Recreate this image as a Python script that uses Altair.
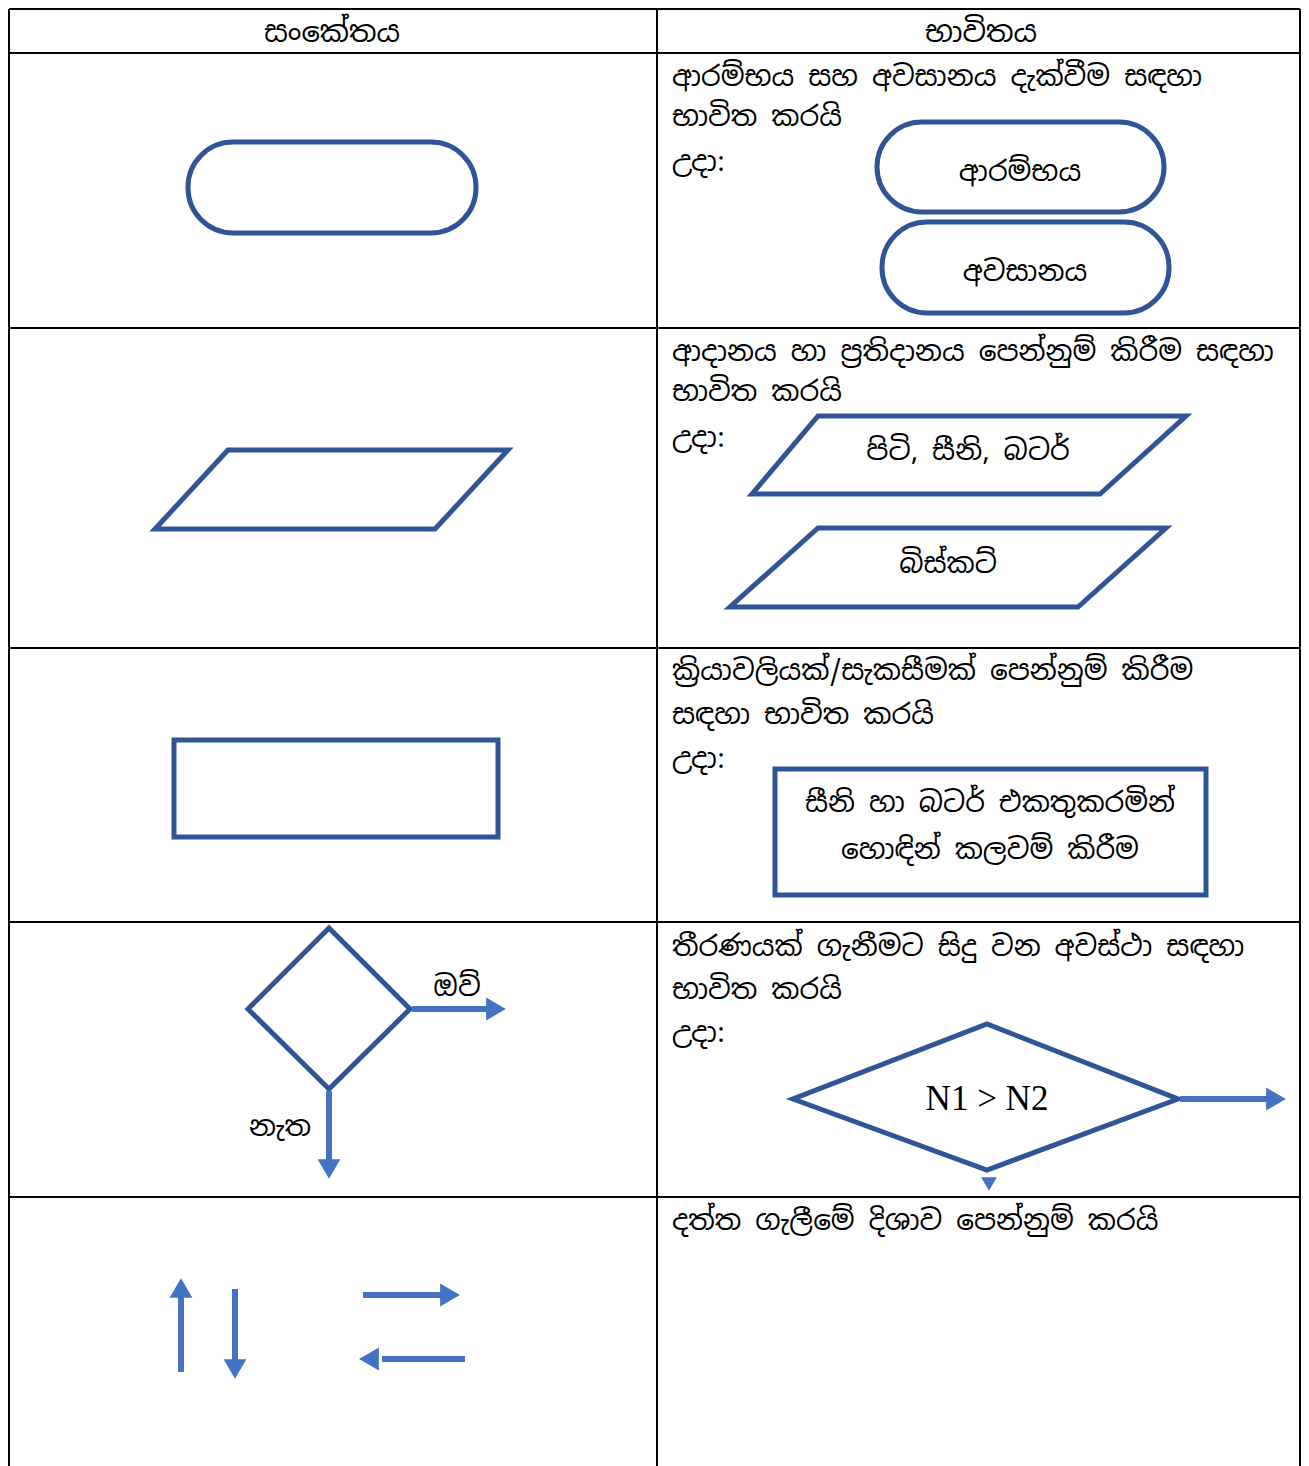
import altair as alt
import pandas as pd

DARK = "#2F5597"
LIGHT = "#4472C4"
SIN_FONT = "Noto Sans Sinhala, Iskoola Pota, Noto Sans, sans-serif"

# ---- table grid ----
h_line_y = [6, 50, 325, 645, 919, 1194]
table_left, table_mid, table_right = 9, 657, 1300
table_top, table_bottom = 6, 1470

# ---- header ----
header_text = ["සංකේතය", "භාවිතය"]
header_x = [332, 981]
header_y = [30, 30]

# ---- description lines (right column) ----
desc_text = [
    "ආරම්භය සහ අවසානය දැක්වීම සඳහා", "භාවිත කරයි", "උදා:",
    "ආදානය හා ප්‍රතිදානය පෙන්නුම් කිරීම සඳහා", "භාවිත කරයි", "උදා:",
    "ක්‍රියාවලියක්/සැකසීමක් පෙන්නුම් කිරීම", "සඳහා භාවිත කරයි", "උදා:",
    "තීරණයක් ගැනීමට සිදු වන අවස්ථා සඳහා", "භාවිත කරයි", "උදා:",
    "දත්ත ගැලීමේ දිශාව පෙන්නුම් කරයි",
]
desc_y = [75, 115, 160, 350, 390, 436, 669, 713, 757, 945, 988, 1031, 1219]
desc_x = 672

# ---- labels inside shapes ----
label_text = ["ආරම්භය", "අවසානය", "පිටි, සීනි, බටර්", "බිස්කට්",
              "සීනි හා බටර් එකතුකරමින්", "හොඳින් කලවම් කිරීම", "ඔව්", "නැත"]
label_x = [1020, 1025, 968, 948, 990, 990, 457, 280]
label_y = [170, 270, 449, 562, 801, 848, 985, 1125]

cond_text = ["N1 > N2"]
cond_x = [987]
cond_y = [1096]

# ---- stadium (terminator) shapes ----
stad_x1 = [188, 877, 882]
stad_x2 = [476, 1164, 1169]
stad_y1 = [139, 119, 219]
stad_y2 = [230, 209, 310]

# ---- process rectangles ----
rect_x1 = [174, 775]
rect_x2 = [498, 1206]
rect_y1 = [737, 766]
rect_y2 = [834, 892]

# ---- polygons (parallelograms, diamonds) ----
poly_name = ["para_left", "para_r1", "para_r2", "dia_left", "dia_right"]
poly_xs = [
    [155, 228, 508, 435],
    [752, 818, 1186, 1100],
    [730, 818, 1166, 1078],
    [329, 410, 329, 248],
    [987, 1178, 987, 793],
]
poly_ys = [
    [526, 447, 447, 526],
    [491, 413, 413, 491],
    [604, 525, 525, 604],
    [925, 1006, 1086, 1006],
    [1021, 1096, 1167, 1096],
]

# ---- arrow shafts ----
shaft_x1 = [412, 329, 1180, 181, 235, 363, 465]
shaft_y1 = [1006, 1088, 1096, 1369, 1286, 1292, 1356]
shaft_x2 = [488, 329, 1268, 181, 235, 441, 382]
shaft_y2 = [1006, 1158, 1096, 1294, 1358, 1292, 1356]

# ---- arrow heads ----
head_x = [496, 329, 1276, 181, 235, 450, 369, 989]
head_y = [1006, 1166, 1096, 1285, 1366, 1292, 1356, 1181]
head_shape = ["triangle-right", "triangle-down", "triangle-right", "triangle-up",
              "triangle-down", "triangle-right", "triangle-left", "triangle-down"]
head_size = [520, 520, 520, 520, 520, 520, 520, 250]

# ================= build tables =================
xs = alt.Scale(domain=[8, 1301], range=[0, 1293], nice=False, zero=False)
ys = alt.Scale(domain=[13, 1463], range=[0, 1450], nice=False, zero=False)

def X(f):
    return alt.X(f, type="quantitative", scale=xs, axis=None)

def Y(f):
    return alt.Y(f, type="quantitative", scale=ys, axis=None)

grid_rows = []
for yv in h_line_y:
    grid_rows.append(dict(x1=table_left, x2=table_right, y1=yv, y2=yv))
for xv in [table_left, table_mid, table_right]:
    grid_rows.append(dict(x1=xv, x2=xv, y1=table_top, y2=table_bottom))
grid_df = pd.DataFrame(grid_rows)

grid = alt.Chart(grid_df).mark_rule(color="black", strokeWidth=2).encode(
    x=X("x1"), x2="x2", y=Y("y1"), y2="y2")

stad_df = pd.DataFrame(dict(x1=stad_x1, x2=stad_x2, y1=stad_y1, y2=stad_y2))
stad = alt.Chart(stad_df).mark_rect(
    fill="white", stroke=DARK, strokeWidth=5, cornerRadius=45).encode(
    x=X("x1"), x2="x2", y=Y("y1"), y2="y2")

rect_df = pd.DataFrame(dict(x1=rect_x1, x2=rect_x2, y1=rect_y1, y2=rect_y2))
rects = alt.Chart(rect_df).mark_rect(
    fill="white", stroke=DARK, strokeWidth=5).encode(
    x=X("x1"), x2="x2", y=Y("y1"), y2="y2")

poly_rows = []
for name, pxs, pys in zip(poly_name, poly_xs, poly_ys):
    seq = list(range(len(pxs))) + [0, 1]
    for k, i in enumerate(seq):
        poly_rows.append(dict(shape=name, order=k, x=pxs[i], y=pys[i]))
poly_df = pd.DataFrame(poly_rows)
polys = alt.Chart(poly_df).mark_line(
    color=DARK, strokeWidth=5, strokeJoin="miter").encode(
    x=X("x"), y=Y("y"), detail="shape:N", order="order:Q")

shaft_df = pd.DataFrame(dict(x1=shaft_x1, x2=shaft_x2, y1=shaft_y1, y2=shaft_y2))
shafts = alt.Chart(shaft_df).mark_rule(color=LIGHT, strokeWidth=6).encode(
    x=X("x1"), x2="x2", y=Y("y1"), y2="y2")

head_df = pd.DataFrame(dict(x=head_x, y=head_y, shape=head_shape, size=head_size))
heads = alt.Chart(head_df).mark_point(
    filled=True, color=LIGHT, opacity=1, strokeWidth=0).encode(
    x=X("x"), y=Y("y"),
    shape=alt.Shape("shape:N", scale=None, legend=None),
    size=alt.Size("size:Q", scale=None, legend=None))

hdr_df = pd.DataFrame(dict(t=header_text, x=header_x, y=header_y))
hdr = alt.Chart(hdr_df).mark_text(
    font=SIN_FONT, fontSize=29, color="black", align="center", baseline="middle").encode(
    x=X("x"), y=Y("y"), text="t:N")

desc_df = pd.DataFrame(dict(t=desc_text, y=desc_y, x=[desc_x] * len(desc_text)))
desc = alt.Chart(desc_df).mark_text(
    font=SIN_FONT, fontSize=28, color="black", align="left", baseline="middle").encode(
    x=X("x"), y=Y("y"), text="t:N")

lab_df = pd.DataFrame(dict(t=label_text, x=label_x, y=label_y))
labs = alt.Chart(lab_df).mark_text(
    font=SIN_FONT, fontSize=28, color="black", align="center", baseline="middle").encode(
    x=X("x"), y=Y("y"), text="t:N")

cond_df = pd.DataFrame(dict(t=cond_text, x=cond_x, y=cond_y))
cond = alt.Chart(cond_df).mark_text(
    font="Liberation Serif", fontSize=35, color="black", align="center", baseline="middle").encode(
    x=X("x"), y=Y("y"), text="t:N")

chart = alt.layer(grid, stad, rects, polys, shafts, heads, hdr, desc, labs, cond).properties(
    width=1293, height=1450, padding=0, background="white"
).configure_view(strokeWidth=0)

chart.save("out.html", embed_options={"renderer": "svg", "actions": False})
